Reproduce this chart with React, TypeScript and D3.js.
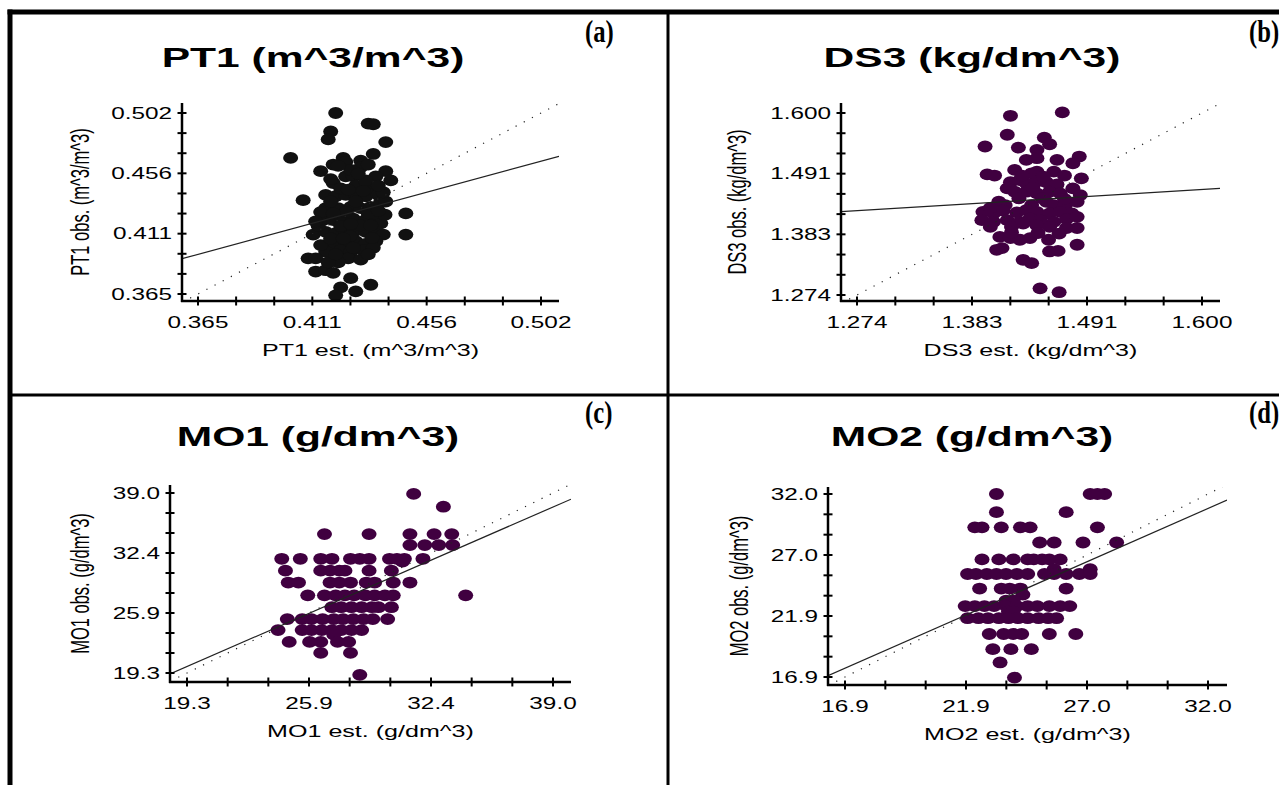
import React from 'react';
import * as d3 from 'd3';

// ---------- data (estimated vs observed) ----------
const pt1Points: [number, number][] = [
  [0.420, 0.502], [0.433, 0.494], [0.435, 0.4935], [0.418, 0.488], [0.417, 0.482], [0.440, 0.480],
  [0.402, 0.468], [0.423, 0.468], [0.424, 0.465], [0.430, 0.466], [0.430, 0.461], [0.435, 0.471],
  [0.414, 0.458], [0.440, 0.458], [0.442, 0.451], [0.424, 0.454], [0.427, 0.454], [0.419, 0.449],
  [0.432, 0.4475], [0.435, 0.445], [0.407, 0.436], [0.416, 0.440], [0.420, 0.439], [0.424, 0.440],
  [0.428, 0.440], [0.432, 0.439], [0.437, 0.440], [0.416, 0.430], [0.421, 0.430], [0.426, 0.431],
  [0.430, 0.430], [0.434, 0.431], [0.438, 0.435], [0.440, 0.435], [0.448, 0.426], [0.415, 0.421],
  [0.419, 0.421], [0.423, 0.421], [0.427, 0.422], [0.432, 0.421], [0.436, 0.422], [0.438, 0.4185],
  [0.411, 0.410], [0.416, 0.412], [0.420, 0.411], [0.424, 0.412], [0.428, 0.413], [0.432, 0.412],
  [0.436, 0.413], [0.439, 0.410], [0.448, 0.410], [0.416, 0.402], [0.420, 0.401], [0.424, 0.403],
  [0.428, 0.405], [0.432, 0.403], [0.436, 0.405], [0.416, 0.397], [0.422, 0.398], [0.426, 0.397],
  [0.431, 0.398], [0.435, 0.400], [0.409, 0.392], [0.412, 0.392], [0.425, 0.392], [0.430, 0.391],
  [0.412, 0.382], [0.416, 0.383], [0.419, 0.381], [0.426, 0.377], [0.434, 0.372], [0.422, 0.370],
  [0.420, 0.364], [0.428, 0.367], [0.419, 0.463], [0.426, 0.459], [0.422, 0.445], [0.428, 0.447],
  [0.436, 0.454], [0.414, 0.427], [0.413, 0.4165], [0.414, 0.402], [0.424, 0.427], [0.430, 0.417],
  [0.4345, 0.4075], [0.4397, 0.425], [0.421, 0.389], [0.417, 0.389], [0.432, 0.451], [0.439, 0.442],
  [0.4257, 0.409], [0.422, 0.4165],
  [0.421, 0.462], [0.429, 0.456], [0.433, 0.463], [0.418, 0.452], [0.437, 0.447], [0.425, 0.444],
  [0.431, 0.443], [0.418, 0.435], [0.428, 0.435], [0.433, 0.426], [0.419, 0.426], [0.426, 0.418],
  [0.434, 0.417], [0.418, 0.407], [0.427, 0.400], [0.420, 0.395], [0.433, 0.395], [0.437, 0.428],
  [0.412, 0.420], [0.423, 0.407],
];

const ds3Points: [number, number][] = [
  [1.419, 1.595], [1.468, 1.601], [1.416, 1.561], [1.395, 1.540], [1.451, 1.556], [1.456, 1.544],
  [1.4265, 1.538], [1.444, 1.534], [1.484, 1.522], [1.434, 1.516], [1.444, 1.519], [1.463, 1.516],
  [1.478, 1.510], [1.397, 1.490], [1.404, 1.488], [1.423, 1.498], [1.439, 1.492], [1.444, 1.495],
  [1.460, 1.495], [1.486, 1.483], [1.419, 1.476], [1.428, 1.480], [1.434, 1.474], [1.444, 1.477],
  [1.453, 1.476], [1.463, 1.472], [1.416, 1.465], [1.423, 1.459], [1.434, 1.459], [1.444, 1.456],
  [1.456, 1.459], [1.466, 1.456], [1.478, 1.465], [1.485, 1.453], [1.482, 1.441], [1.408, 1.441],
  [1.414, 1.435], [1.439, 1.435], [1.453, 1.441], [1.460, 1.435], [1.471, 1.435], [1.393, 1.423],
  [1.403, 1.420], [1.412, 1.425], [1.425, 1.422], [1.434, 1.426], [1.444, 1.423], [1.456, 1.420],
  [1.466, 1.423], [1.477, 1.420], [1.392, 1.408], [1.403, 1.405], [1.416, 1.408], [1.428, 1.405],
  [1.4375, 1.411], [1.447, 1.408], [1.460, 1.405], [1.472, 1.410], [1.482, 1.414], [1.400, 1.396],
  [1.420, 1.396], [1.431, 1.402], [1.444, 1.399], [1.456, 1.396], [1.472, 1.394], [1.482, 1.394],
  [1.409, 1.378], [1.419, 1.376], [1.428, 1.373], [1.4375, 1.376], [1.455, 1.373], [1.482, 1.364],
  [1.411, 1.358], [1.406, 1.355], [1.456, 1.352], [1.464, 1.353], [1.431, 1.337], [1.439, 1.331],
  [1.447, 1.286], [1.465, 1.279],
  [1.430, 1.488], [1.450, 1.486], [1.470, 1.488], [1.440, 1.466], [1.449, 1.447], [1.427, 1.447],
  [1.470, 1.446], [1.420, 1.386], [1.445, 1.385], [1.465, 1.384], [1.400, 1.430],
];

// rows: [observed, estimated values at that observed level]
const mo1Rows: [number, number[]][] = [
  [38.9, [31.5]],
  [37.5, [33.1]],
  [34.5, [26.7, 29.1, 31.3, 32.6, 33.55]],
  [33.3, [31.3, 32.1, 32.85, 33.6]],
  [31.8, [24.4, 25.4, 26.5, 27.1, 28.1, 28.6, 29.1, 30.2, 30.6, 31.0, 32.0]],
  [31.5, [30.9]],
  [30.5, [24.6, 26.5, 27.0, 27.5, 27.8, 29.1, 30.3]],
  [29.2, [24.75, 25.3, 27.0, 27.5, 28.1, 28.95, 29.4, 30.4, 31.3]],
  [27.8, [25.8, 26.7, 27.3, 27.8, 28.3, 28.9, 29.4, 29.95, 30.4, 34.3]],
  [26.5, [27.1, 27.6, 28.15, 28.7, 29.25, 29.6, 30.3]],
  [25.2, [24.7, 25.5, 26.0, 26.6, 27.2, 27.7, 28.25, 28.8, 29.3, 30.1]],
  [24.0, [24.2, 25.5, 26.0, 26.55, 27.1, 27.6, 28.15, 28.7]],
  [23.5, [27.2]],
  [22.7, [24.8, 25.9, 26.5, 27.4, 28.0]],
  [21.5, [26.5, 28.1]],
  [19.1, [28.6]],
];

const mo2Rows: [number, number[]][] = [
  [32.0, [23.2, 27.1, 27.4, 27.7]],
  [30.5, [23.2, 26.1]],
  [29.25, [22.3, 22.6, 23.4, 24.2, 24.6, 27.4]],
  [28.0, [25.0, 25.6, 26.8, 28.2]],
  [26.6, [22.6, 23.3, 23.9, 24.5, 24.75, 25.1, 25.4, 25.85]],
  [25.8, [25.6, 27.1]],
  [25.4, [22.0, 22.35, 22.8, 23.2, 23.6, 24.05, 24.5, 25.2, 25.6, 26.1, 26.65, 27.1]],
  [24.2, [22.5, 23.4, 23.75, 24.2, 26.1]],
  [23.7, [24.3]],
  [23.2, [23.6, 23.9]],
  [22.75, [21.9, 22.3, 22.7, 23.1, 23.6, 24.05, 24.5, 24.9, 25.4, 25.85, 26.25]],
  [22.3, [23.7, 23.9]],
  [21.75, [22.0, 22.45, 22.85, 23.3, 23.7, 24.1, 24.5, 24.95, 25.35, 25.7]],
  [20.45, [22.9, 23.5, 23.9, 24.25, 25.4, 26.5]],
  [19.2, [23.05, 23.8, 24.65]],
  [18.1, [23.35]],
  [16.85, [23.95]],
];

const pt1Domain: [number, number] = [0.365, 0.502];
const ds3Domain: [number, number] = [1.274, 1.6];
const mo1Domain: [number, number] = [19.3, 39.0];
const mo2Domain: [number, number] = [16.9, 32.0];

const pt1TickLabels = ['0.365', '0.411', '0.456', '0.502'];
const ds3TickLabels = ['1.274', '1.383', '1.491', '1.600'];
const mo1TickLabels = ['19.3', '25.9', '32.4', '39.0'];
const mo2TickLabels = ['16.9', '21.9', '27.0', '32.0'];

const pt1Fit = { slope: 0.515, intercept: 0.207 };
const ds3Fit = { slope: 0.1167, intercept: 1.2763 };
const mo1Fit = { slope: 0.886, intercept: 2.91 };
const mo2Fit = { slope: 0.873, intercept: 2.87 };

const rowsToPoints = (rows: [number, number[]][]): [number, number][] =>
  rows.flatMap(([obs, ests]) => ests.map((e) => [e, obs] as [number, number]));

// ---------- layout ----------
const SANS = "'Liberation Sans', Arial, sans-serif";
const SERIF = "'Liberation Serif', 'Times New Roman', serif";
const SX = 1.52;

type Cfg = {
  id: string;
  axisX: number; axisY: number; top: number; right: number;
  xR: [number, number]; yR: [number, number];
  titleX: number; titleY: number;
  tagX: number; tagY: number;
  yLabX: number;
};

function STxt(props: {
  x: number; y: number; size: number; anchor?: string; weight?: string | number;
  rotate?: boolean; dy?: string; sx?: number; children: React.ReactNode; fill?: string;
}) {
  const { x, y, size, anchor = 'middle', weight = 'normal', rotate = false, dy, sx = SX, children, fill = '#000' } = props;
  const tr = rotate
    ? `translate(${x},${y}) rotate(-90) scale(1,${sx})`
    : `translate(${x},${y}) scale(${sx},1)`;
  return (
    <text transform={tr} fontSize={size} fontFamily={SANS} fontWeight={weight}
      textAnchor={anchor} dy={dy} fill={fill}
      dominantBaseline={rotate ? 'central' : undefined}>
      {children}
    </text>
  );
}

function Panel(props: {
  cfg: Cfg; points: [number, number][]; domain: [number, number]; tickLabels: string[];
  fit: { slope: number; intercept: number }; title: string; xLabel: string; yLabel: string;
  tag: string; color: string;
}) {
  const { cfg, points, domain, tickLabels, fit, title, xLabel, yLabel, tag, color } = props;
  const x = d3.scaleLinear().domain(domain).range(cfg.xR);
  const y = d3.scaleLinear().domain(domain).range(cfg.yR);
  const ticks = d3.range(10).map((i) => domain[0] + (i * (domain[1] - domain[0])) / 9);
  const e0 = x.invert(cfg.axisX);
  const e1 = x.invert(cfg.right);
  const line = d3.line<[number, number]>().x((d) => x(d[0])).y((d) => y(d[1]));
  const fitPath = line([[e0, fit.intercept + fit.slope * e0], [e1, fit.intercept + fit.slope * e1]]) || '';
  const idPath = line([[e0, e0], [e1, e1]]) || '';
  const clipId = `clip-${cfg.id}`;
  return (
    <g>
      <defs>
        <clipPath id={clipId}>
          <rect x={cfg.axisX} y={cfg.top} width={cfg.right - cfg.axisX} height={cfg.axisY - cfg.top} />
        </clipPath>
      </defs>
      <STxt x={cfg.titleX} y={cfg.titleY} size={28} weight="bold">{title}</STxt>
      <text transform={`translate(${cfg.tagX},${cfg.tagY}) scale(0.88,1.12)`} fontSize={28}
        fontFamily={SERIF} fontWeight="bold">{tag}</text>

      {/* points */}
      <g fill={color}>
        {points.map((p, i) => (
          <ellipse key={i} cx={x(p[0])} cy={y(p[1])} rx={7.5} ry={5.9} />
        ))}
      </g>

      {/* lines */}
      <g clipPath={`url(#${clipId})`} fill="none">
        <path d={idPath} stroke="#222" strokeWidth={1.2} strokeDasharray="1.2 8" />
        <path d={fitPath} stroke="#222" strokeWidth={1.2} />
      </g>

      {/* axes */}
      <g stroke="#000" strokeWidth={2.5}>
        <line x1={cfg.axisX} y1={cfg.top} x2={cfg.axisX} y2={cfg.axisY + 1} />
        <line x1={cfg.axisX - 1} y1={cfg.axisY} x2={cfg.right} y2={cfg.axisY} />
      </g>
      <g stroke="#000" strokeWidth={2}>
        {ticks.map((t, i) => (
          <line key={'yt' + i} x1={cfg.axisX - 4.5} x2={cfg.axisX + 4.5} y1={y(t)} y2={y(t)} />
        ))}
        {ticks.map((t, i) => (
          <line key={'xt' + i} y1={cfg.axisY - 4.5} y2={cfg.axisY + 4.5} x1={x(t)} x2={x(t)} />
        ))}
      </g>
      {tickLabels.map((lab, i) => (
        <STxt key={'yl' + i} x={cfg.axisX - 10} y={y(ticks[i * 3])} size={16} anchor="end" dy="0.36em">{lab}</STxt>
      ))}
      {tickLabels.map((lab, i) => (
        <STxt key={'xl' + i} x={x(ticks[i * 3])} y={cfg.axisY + 27} size={16}>{lab}</STxt>
      ))}
      <STxt x={(cfg.axisX + cfg.right) / 2} y={cfg.axisY + 55} size={16.5}>{xLabel}</STxt>
      <STxt x={cfg.yLabX} y={(cfg.top + cfg.axisY) / 2} size={16.5} rotate>{yLabel}</STxt>
    </g>
  );
}

const cfgA: Cfg = { id: 'a', axisX: 182, axisY: 301, top: 103, right: 559, xR: [198, 541], yR: [294, 113],
  titleX: 313, titleY: 67, tagX: 585, tagY: 42, yLabX: 80 };
const cfgB: Cfg = { id: 'b', axisX: 841, axisY: 301, top: 103, right: 1220, xR: [857, 1202], yR: [295, 113],
  titleX: 972, titleY: 67, tagX: 1249, tagY: 42, yLabX: 737 };
const cfgC: Cfg = { id: 'c', axisX: 170, axisY: 682, top: 485, right: 571, xR: [187, 553], yR: [673, 493],
  titleX: 318, titleY: 446, tagX: 585, tagY: 423, yLabX: 80 };
const cfgD: Cfg = { id: 'd', axisX: 828, axisY: 685, top: 487, right: 1227, xR: [845, 1208], yR: [677, 494],
  titleX: 972, titleY: 446, tagX: 1249, tagY: 423, yLabX: 739 };

export default function App() {
  const W = 1279, H = 785;
  return (
    <svg width={W} height={H} style={{ position: 'absolute', left: 0, top: 0, background: '#fff' }}>
      <rect x={0} y={0} width={W} height={H} fill="#fff" />
      {/* frame */}
      <g fill="#000">
        <rect x={7.5} y={9.5} width={W - 7.5} height={5} />
        <rect x={7.5} y={9.5} width={5} height={H - 9.5} />
        <rect x={666.5} y={12} width={3} height={H - 12} />
        <rect x={10} y={393.5} width={W - 10} height={3} />
      </g>
      <Panel cfg={cfgA} points={pt1Points} domain={pt1Domain} tickLabels={pt1TickLabels} fit={pt1Fit}
        title="PT1 (m^3/m^3)" xLabel="PT1 est. (m^3/m^3)" yLabel="PT1 obs. (m^3/m^3)" tag="(a)" color="#111111" />
      <Panel cfg={cfgB} points={ds3Points} domain={ds3Domain} tickLabels={ds3TickLabels} fit={ds3Fit}
        title="DS3 (kg/dm^3)" xLabel="DS3 est. (kg/dm^3)" yLabel="DS3 obs. (kg/dm^3)" tag="(b)" color="#400040" />
      <Panel cfg={cfgC} points={rowsToPoints(mo1Rows)} domain={mo1Domain} tickLabels={mo1TickLabels} fit={mo1Fit}
        title="MO1 (g/dm^3)" xLabel="MO1 est. (g/dm^3)" yLabel="MO1 obs. (g/dm^3)" tag="(c)" color="#400040" />
      <Panel cfg={cfgD} points={rowsToPoints(mo2Rows)} domain={mo2Domain} tickLabels={mo2TickLabels} fit={mo2Fit}
        title="MO2 (g/dm^3)" xLabel="MO2 est. (g/dm^3)" yLabel="MO2 obs. (g/dm^3)" tag="(d)" color="#400040" />
    </svg>
  );
}
